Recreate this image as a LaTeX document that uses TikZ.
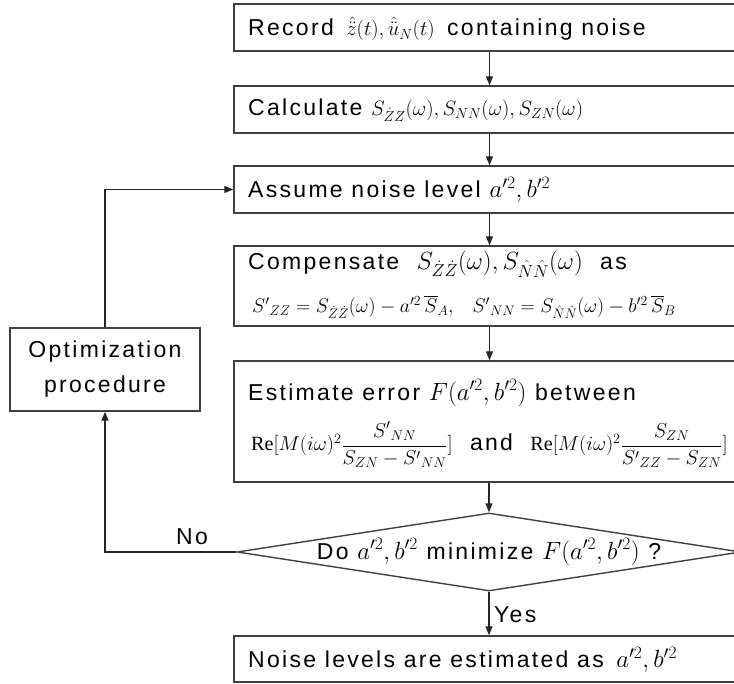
\RequirePackage{fix-cm}
\documentclass[tikz,border=0pt]{standalone}
\usepackage{amsmath}
\usepackage{fontspec}
\setmainfont{Liberation Sans}[LetterSpace=10]
\newfontfamily\serifrm{Liberation Serif}
\usetikzlibrary{shapes.geometric,arrows.meta}
\tikzset{
  box/.style={draw=black!75, line width=1.4pt, rectangle, inner sep=0pt, minimum width=511pt},
  txt/.style={anchor=west, inner sep=0pt, font=\fontsize{23}{27}\selectfont},
  ctxt/.style={inner sep=0pt, font=\fontsize{23}{27}\selectfont},
  arr/.style={-{Triangle[length=9pt,width=7pt]}, line width=1.3pt, draw=black!85},
}
\newcommand{\ReOp}{\text{\serifrm Re}}
\newcommand{\msz}[2]{{\fontsize{#1}{#1}\selectfont$#2$}}
\begin{document}
\begin{tikzpicture}[x=1pt,y=-1pt]
\useasboundingbox (0,0) rectangle (734,684);
% main boxes
\node[box, minimum height=47pt] (b1) at (489.5,27.5) {};
\node[box, minimum height=47pt] (b2) at (489.5,109.5) {};
\node[box, minimum height=47pt] (b3) at (489.5,189.5) {};
\node[box, minimum height=80pt] (b4) at (489.5,286) {};
\node[box, minimum height=121pt] (b5) at (489.5,421.5) {};
\node[draw=black!75, line width=1.4pt, diamond, inner sep=0pt, minimum width=504pt, minimum height=78pt, aspect=6.46] (d) at (489,552) {};
\node[box, minimum height=46pt] (b6) at (489.5,659) {};
\node[draw=black!75, line width=1.4pt, rectangle, inner sep=0pt, minimum width=190pt, minimum height=83pt] (opt) at (105,369.5) {};
% texts
\node[txt] (t1) at (248,29) {Record\ \,\msz{20.7}{\hat{\ddot{z}}(t),\hat{\ddot{u}}_N(t)}\ \,containing noise};
\node[txt] (t2) at (248,110) {Calculate\ \msz{20.7}{S_{\dot{Z}Z}(\omega),S_{NN}(\omega),S_{ZN}(\omega)}};
\node[txt] (t3) at (248,190) {Assume noise level \msz{24.9}{a'^2,b'^2}};
\node[txt] (t4a) at (248,264) {Compensate\ \ \msz{24.9}{S_{\dot{Z}\dot{Z}}(\omega),S_{\hat{N}\hat{N}}(\omega)}\ \ as};
\node[txt] (t4b) at (252,307) {\msz{19.8}{S'{}_{ZZ}=S_{\dot{Z}\dot{Z}}(\omega)-a'^2\,\overline{S}_A,}\hspace{19pt}\msz{19.8}{S'{}_{NN}=S_{\hat{N}\hat{N}}(\omega)-b'^2\,\overline{S}_B}};
\node[txt] (t5a) at (248,393) {Estimate error \msz{24.9}{F(a'^2,b'^2)}\ between};
\node[txt] (t5b) at (251,445) {\msz{20.2}{\ReOp[M(i\omega)^2\dfrac{S'{}_{NN}}{S_{ZN}-S'{}_{NN}}]}\ \ and\ \ \msz{20.2}{\ReOp[M(i\omega)^2\dfrac{S_{ZN}}{S'{}_{ZZ}-S_{ZN}}]}};
\node[ctxt] (td) at (d.center) {Do \msz{24.9}{a'^2,b'^2} minimize \msz{24.9}{F(a'^2,b'^2)} ?};
\node[txt] (t6) at (248,660) {Noise levels are estimated as\ \,\msz{24.9}{a'^2,b'^2}};
\node[ctxt, align=center, font=\fontsize{23}{35}\selectfont] (topt) at (opt.center) {Optimization\\procedure};
% connectors
\draw[arr] (b1) -- (b2);
\draw[arr] (b2) -- (b3);
\draw[arr] (b3) -- (b4);
\draw[arr] (b4) -- (b5);
\draw[arr] (b5.south -| d.north) -- (d.north);
\draw[arr] (d.south) -- (d.south |- b6.north);
\coordinate (cl) at (opt.south |- d.west);
\coordinate (cu) at (opt.north |- b3.west);
\draw[arr] (d.west) -- (cl) -- (opt.south);
\draw[arr] (opt.north) -- (cu) -- (b3.west);
\node[ctxt] (lno) at (192,537) {No};
\node[ctxt, anchor=west] (lyes) at (494,615) {Yes};
\end{tikzpicture}
\end{document}
